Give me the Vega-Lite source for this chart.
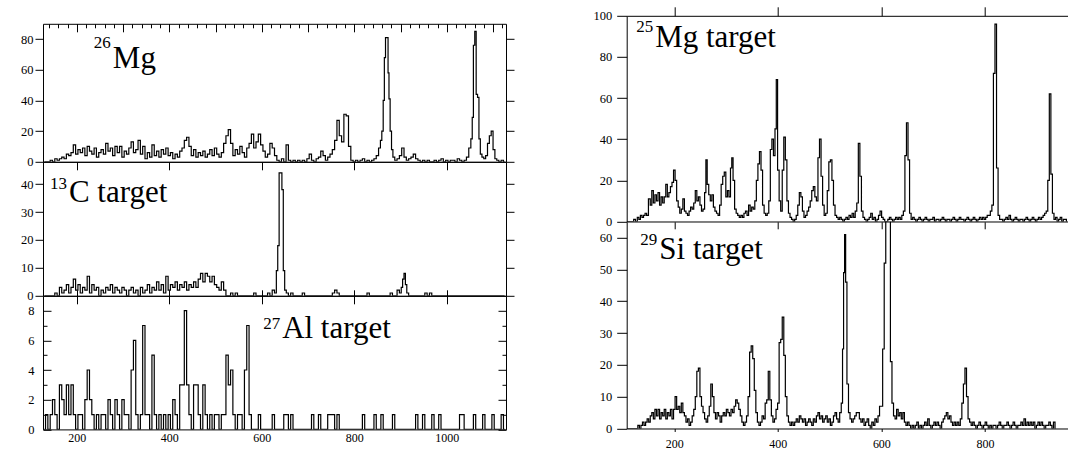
{
"$schema": "https://vega.github.io/schema/vega-lite/v6.json",
"padding": {"left": 0, "top": 5.8, "right": 0, "bottom": 0},
"config": {
  "view": {"stroke": "black", "strokeWidth": 1},
  "axis": {"labelFont": "Liberation Serif", "labelFontSize": 12.5, "labelColor": "black", "tickColor": "black", "domainColor": "black", "tickWidth": 1, "domainWidth": 1, "grid": false, "labelFlush": false, "labelOverlap": false, "format": "d"},
  "text": {"font": "Liberation Serif", "color": "black"}
},
"datasets": {
"mg26": [{"x":130,"y":0},{"x":140,"y":0},{"x":145,"y":1},{"x":150,"y":0},{"x":155,"y":2},{"x":160,"y":1},{"x":165,"y":2},{"x":170,"y":3},{"x":175,"y":2},{"x":180,"y":5},{"x":185,"y":4},{"x":190,"y":6},{"x":195,"y":11},{"x":200,"y":5},{"x":205,"y":8},{"x":210,"y":6},{"x":215,"y":9},{"x":220,"y":4},{"x":225,"y":10},{"x":230,"y":7},{"x":235,"y":5},{"x":240,"y":9},{"x":245,"y":3},{"x":250,"y":6},{"x":255,"y":8},{"x":260,"y":5},{"x":265,"y":12},{"x":270,"y":7},{"x":275,"y":9},{"x":280,"y":4},{"x":285,"y":10},{"x":290,"y":6},{"x":295,"y":10},{"x":300,"y":3},{"x":305,"y":7},{"x":310,"y":5},{"x":315,"y":9},{"x":320,"y":13},{"x":325,"y":6},{"x":330,"y":8},{"x":335,"y":14},{"x":340,"y":5},{"x":345,"y":10},{"x":350,"y":2},{"x":355,"y":6},{"x":360,"y":3},{"x":365,"y":11},{"x":370,"y":4},{"x":375,"y":7},{"x":380,"y":3},{"x":385,"y":8},{"x":390,"y":5},{"x":395,"y":9},{"x":400,"y":4},{"x":405,"y":6},{"x":410,"y":2},{"x":415,"y":5},{"x":420,"y":3},{"x":425,"y":7},{"x":430,"y":9},{"x":435,"y":14},{"x":440,"y":16},{"x":445,"y":10},{"x":450,"y":4},{"x":455,"y":8},{"x":460,"y":3},{"x":465,"y":6},{"x":470,"y":4},{"x":475,"y":7},{"x":480,"y":3},{"x":485,"y":5},{"x":490,"y":8},{"x":495,"y":4},{"x":500,"y":9},{"x":505,"y":5},{"x":510,"y":3},{"x":515,"y":6},{"x":520,"y":12},{"x":525,"y":17},{"x":530,"y":21},{"x":535,"y":12},{"x":540,"y":4},{"x":545,"y":8},{"x":550,"y":5},{"x":555,"y":10},{"x":560,"y":6},{"x":565,"y":3},{"x":570,"y":9},{"x":575,"y":12},{"x":580,"y":18},{"x":585,"y":9},{"x":590,"y":13},{"x":595,"y":18},{"x":600,"y":11},{"x":605,"y":7},{"x":610,"y":3},{"x":615,"y":5},{"x":620,"y":12},{"x":625,"y":9},{"x":630,"y":4},{"x":635,"y":1},{"x":640,"y":0},{"x":645,"y":2},{"x":650,"y":0},{"x":655,"y":11},{"x":660,"y":1},{"x":665,"y":0},{"x":670,"y":1},{"x":675,"y":0},{"x":680,"y":1},{"x":685,"y":0},{"x":690,"y":1},{"x":695,"y":0},{"x":700,"y":2},{"x":705,"y":5},{"x":710,"y":1},{"x":715,"y":0},{"x":720,"y":2},{"x":725,"y":3},{"x":730,"y":7},{"x":735,"y":4},{"x":740,"y":1},{"x":745,"y":3},{"x":750,"y":5},{"x":755,"y":8},{"x":760,"y":14},{"x":765,"y":27},{"x":770,"y":17},{"x":775,"y":13},{"x":780,"y":31},{"x":785,"y":30},{"x":790,"y":10},{"x":795,"y":1},{"x":800,"y":0},{"x":805,"y":1},{"x":810,"y":0},{"x":815,"y":1},{"x":820,"y":2},{"x":825,"y":0},{"x":830,"y":1},{"x":835,"y":0},{"x":840,"y":1},{"x":845,"y":2},{"x":850,"y":4},{"x":855,"y":9},{"x":858,"y":14},{"x":861,"y":20},{"x":864,"y":40},{"x":866,"y":68},{"x":869,"y":81},{"x":872,"y":81},{"x":874,"y":58},{"x":876,"y":41},{"x":879,"y":20},{"x":882,"y":8},{"x":885,"y":3},{"x":890,"y":1},{"x":895,"y":2},{"x":900,"y":4},{"x":905,"y":9},{"x":910,"y":3},{"x":915,"y":1},{"x":920,"y":2},{"x":925,"y":3},{"x":930,"y":5},{"x":935,"y":2},{"x":940,"y":1},{"x":945,"y":0},{"x":950,"y":1},{"x":955,"y":0},{"x":960,"y":1},{"x":965,"y":0},{"x":970,"y":0},{"x":975,"y":1},{"x":980,"y":0},{"x":985,"y":1},{"x":990,"y":2},{"x":995,"y":0},{"x":1000,"y":1},{"x":1005,"y":0},{"x":1010,"y":1},{"x":1015,"y":1},{"x":1020,"y":0},{"x":1025,"y":2},{"x":1030,"y":1},{"x":1035,"y":0},{"x":1040,"y":1},{"x":1045,"y":3},{"x":1050,"y":9},{"x":1054,"y":15},{"x":1056,"y":29},{"x":1059,"y":76},{"x":1062,"y":85},{"x":1065,"y":44},{"x":1068,"y":42},{"x":1071,"y":15},{"x":1074,"y":5},{"x":1078,"y":3},{"x":1082,"y":2},{"x":1086,"y":4},{"x":1090,"y":12},{"x":1094,"y":17},{"x":1098,"y":20},{"x":1102,"y":8},{"x":1106,"y":2},{"x":1110,"y":1},{"x":1115,"y":0},{"x":1120,"y":1},{"x":1125,"y":0}],
"c13": [{"x":130,"y":0},{"x":150,"y":0},{"x":155,"y":1},{"x":160,"y":0},{"x":165,"y":3},{"x":170,"y":1},{"x":175,"y":2},{"x":180,"y":4},{"x":185,"y":1},{"x":190,"y":3},{"x":195,"y":6},{"x":200,"y":2},{"x":205,"y":4},{"x":210,"y":1},{"x":215,"y":3},{"x":220,"y":2},{"x":225,"y":7},{"x":230,"y":1},{"x":235,"y":4},{"x":240,"y":2},{"x":245,"y":3},{"x":250,"y":0},{"x":255,"y":2},{"x":260,"y":1},{"x":265,"y":3},{"x":270,"y":2},{"x":275,"y":4},{"x":280,"y":1},{"x":285,"y":3},{"x":290,"y":2},{"x":295,"y":1},{"x":300,"y":3},{"x":305,"y":2},{"x":310,"y":0},{"x":315,"y":2},{"x":320,"y":3},{"x":325,"y":1},{"x":330,"y":2},{"x":335,"y":0},{"x":340,"y":3},{"x":345,"y":1},{"x":350,"y":2},{"x":355,"y":4},{"x":360,"y":1},{"x":365,"y":3},{"x":370,"y":2},{"x":375,"y":5},{"x":380,"y":2},{"x":385,"y":4},{"x":390,"y":1},{"x":395,"y":7},{"x":400,"y":2},{"x":405,"y":4},{"x":410,"y":3},{"x":415,"y":5},{"x":420,"y":2},{"x":425,"y":4},{"x":430,"y":3},{"x":435,"y":5},{"x":440,"y":2},{"x":445,"y":4},{"x":450,"y":3},{"x":455,"y":5},{"x":460,"y":3},{"x":465,"y":6},{"x":470,"y":8},{"x":475,"y":5},{"x":480,"y":8},{"x":485,"y":7},{"x":490,"y":5},{"x":495,"y":7},{"x":500,"y":4},{"x":505,"y":3},{"x":510,"y":2},{"x":515,"y":5},{"x":520,"y":2},{"x":525,"y":0},{"x":530,"y":0},{"x":535,"y":1},{"x":540,"y":0},{"x":545,"y":1},{"x":550,"y":0},{"x":580,"y":0},{"x":585,"y":1},{"x":590,"y":0},{"x":610,"y":0},{"x":615,"y":1},{"x":620,"y":0},{"x":625,"y":2},{"x":630,"y":1},{"x":633,"y":9},{"x":636,"y":18},{"x":639,"y":44},{"x":642,"y":44},{"x":645,"y":38},{"x":648,"y":9},{"x":651,"y":2},{"x":655,"y":1},{"x":660,"y":0},{"x":665,"y":1},{"x":670,"y":0},{"x":685,"y":0},{"x":690,"y":1},{"x":695,"y":0},{"x":750,"y":0},{"x":755,"y":1},{"x":760,"y":2},{"x":765,"y":1},{"x":770,"y":0},{"x":825,"y":0},{"x":830,"y":1},{"x":835,"y":0},{"x":875,"y":0},{"x":880,"y":1},{"x":885,"y":0},{"x":890,"y":0},{"x":895,"y":2},{"x":900,"y":1},{"x":903,"y":3},{"x":906,"y":6},{"x":909,"y":8},{"x":912,"y":4},{"x":915,"y":1},{"x":920,"y":0},{"x":950,"y":0},{"x":955,"y":1},{"x":960,"y":0},{"x":965,"y":1},{"x":970,"y":0},{"x":1125,"y":0}],
"al27": [{"x":130,"y":0},{"x":135,"y":1},{"x":140,"y":0},{"x":145,"y":1},{"x":150,"y":2},{"x":155,"y":1},{"x":160,"y":0},{"x":165,"y":3},{"x":170,"y":2},{"x":175,"y":1},{"x":180,"y":3},{"x":185,"y":1},{"x":190,"y":3},{"x":195,"y":1},{"x":200,"y":0},{"x":205,"y":1},{"x":210,"y":1},{"x":215,"y":0},{"x":220,"y":2},{"x":225,"y":4},{"x":230,"y":2},{"x":235,"y":1},{"x":240,"y":0},{"x":245,"y":1},{"x":250,"y":0},{"x":255,"y":1},{"x":260,"y":1},{"x":265,"y":0},{"x":270,"y":2},{"x":275,"y":1},{"x":280,"y":0},{"x":285,"y":2},{"x":290,"y":1},{"x":295,"y":0},{"x":300,"y":2},{"x":305,"y":1},{"x":310,"y":1},{"x":315,"y":0},{"x":320,"y":4},{"x":325,"y":6},{"x":330,"y":1},{"x":335,"y":0},{"x":340,"y":1},{"x":345,"y":7},{"x":350,"y":1},{"x":355,"y":1},{"x":360,"y":0},{"x":365,"y":5},{"x":370,"y":1},{"x":375,"y":0},{"x":380,"y":1},{"x":385,"y":0},{"x":390,"y":1},{"x":395,"y":0},{"x":400,"y":1},{"x":405,"y":0},{"x":410,"y":2},{"x":415,"y":1},{"x":420,"y":0},{"x":425,"y":3},{"x":430,"y":3},{"x":435,"y":8},{"x":440,"y":3},{"x":445,"y":1},{"x":450,"y":0},{"x":455,"y":3},{"x":460,"y":3},{"x":465,"y":1},{"x":470,"y":0},{"x":475,"y":3},{"x":480,"y":1},{"x":485,"y":0},{"x":490,"y":1},{"x":495,"y":0},{"x":500,"y":1},{"x":505,"y":1},{"x":510,"y":0},{"x":515,"y":1},{"x":520,"y":1},{"x":525,"y":5},{"x":530,"y":3},{"x":535,"y":4},{"x":540,"y":1},{"x":545,"y":0},{"x":550,"y":1},{"x":555,"y":1},{"x":560,"y":0},{"x":565,"y":4},{"x":570,"y":7},{"x":575,"y":1},{"x":580,"y":0},{"x":590,"y":0},{"x":595,"y":1},{"x":600,"y":0},{"x":620,"y":0},{"x":625,"y":1},{"x":630,"y":0},{"x":645,"y":0},{"x":650,"y":1},{"x":655,"y":1},{"x":660,"y":0},{"x":665,"y":1},{"x":670,"y":0},{"x":705,"y":0},{"x":710,"y":1},{"x":715,"y":0},{"x":720,"y":0},{"x":725,"y":1},{"x":730,"y":0},{"x":740,"y":0},{"x":745,"y":1},{"x":750,"y":1},{"x":755,"y":1},{"x":760,"y":0},{"x":765,"y":1},{"x":770,"y":0},{"x":815,"y":0},{"x":820,"y":1},{"x":825,"y":0},{"x":840,"y":0},{"x":845,"y":1},{"x":850,"y":0},{"x":855,"y":0},{"x":860,"y":1},{"x":865,"y":0},{"x":880,"y":0},{"x":885,"y":1},{"x":890,"y":0},{"x":930,"y":0},{"x":935,"y":1},{"x":940,"y":0},{"x":945,"y":0},{"x":950,"y":1},{"x":955,"y":0},{"x":965,"y":0},{"x":970,"y":1},{"x":975,"y":0},{"x":980,"y":0},{"x":985,"y":1},{"x":990,"y":0},{"x":1025,"y":0},{"x":1030,"y":1},{"x":1035,"y":1},{"x":1040,"y":0},{"x":1055,"y":0},{"x":1060,"y":1},{"x":1065,"y":0},{"x":1075,"y":0},{"x":1080,"y":1},{"x":1085,"y":0},{"x":1095,"y":0},{"x":1100,"y":1},{"x":1105,"y":0},{"x":1115,"y":0},{"x":1120,"y":1},{"x":1125,"y":0}],
"mg25": [{"x":108,"y":0},{"x":120,"y":0},{"x":123,"y":1},{"x":127,"y":0},{"x":130,"y":2},{"x":133,"y":1},{"x":136,"y":3},{"x":139,"y":2},{"x":142,"y":3},{"x":145,"y":4},{"x":148,"y":3},{"x":152,"y":11},{"x":155,"y":8},{"x":158,"y":15},{"x":161,"y":9},{"x":164,"y":13},{"x":167,"y":10},{"x":170,"y":14},{"x":173,"y":8},{"x":176,"y":12},{"x":179,"y":9},{"x":182,"y":12},{"x":185,"y":18},{"x":188,"y":12},{"x":191,"y":14},{"x":194,"y":17},{"x":197,"y":19},{"x":200,"y":25},{"x":203,"y":20},{"x":206,"y":10},{"x":209,"y":7},{"x":212,"y":4},{"x":215,"y":6},{"x":218,"y":11},{"x":221,"y":5},{"x":224,"y":4},{"x":227,"y":3},{"x":230,"y":5},{"x":233,"y":7},{"x":236,"y":6},{"x":239,"y":9},{"x":242,"y":15},{"x":245,"y":10},{"x":248,"y":12},{"x":251,"y":8},{"x":254,"y":5},{"x":257,"y":6},{"x":260,"y":14},{"x":262,"y":30},{"x":265,"y":18},{"x":268,"y":13},{"x":271,"y":10},{"x":274,"y":13},{"x":277,"y":7},{"x":280,"y":5},{"x":283,"y":4},{"x":286,"y":3},{"x":289,"y":8},{"x":292,"y":18},{"x":295,"y":22},{"x":298,"y":24},{"x":301,"y":12},{"x":304,"y":15},{"x":307,"y":12},{"x":310,"y":26},{"x":312,"y":31},{"x":315,"y":20},{"x":318,"y":6},{"x":321,"y":4},{"x":324,"y":3},{"x":327,"y":2},{"x":330,"y":3},{"x":333,"y":2},{"x":336,"y":4},{"x":339,"y":5},{"x":342,"y":3},{"x":345,"y":8},{"x":348,"y":5},{"x":351,"y":7},{"x":354,"y":6},{"x":357,"y":10},{"x":360,"y":20},{"x":363,"y":28},{"x":366,"y":34},{"x":369,"y":25},{"x":372,"y":8},{"x":375,"y":4},{"x":378,"y":3},{"x":381,"y":4},{"x":384,"y":10},{"x":387,"y":35},{"x":390,"y":40},{"x":393,"y":32},{"x":396,"y":45},{"x":398,"y":69},{"x":401,"y":25},{"x":404,"y":10},{"x":407,"y":5},{"x":410,"y":25},{"x":413,"y":41},{"x":416,"y":30},{"x":419,"y":10},{"x":422,"y":4},{"x":425,"y":2},{"x":428,"y":1},{"x":431,"y":0},{"x":434,"y":1},{"x":437,"y":3},{"x":440,"y":8},{"x":443,"y":14},{"x":446,"y":12},{"x":449,"y":5},{"x":452,"y":2},{"x":455,"y":3},{"x":458,"y":5},{"x":461,"y":7},{"x":464,"y":10},{"x":467,"y":15},{"x":470,"y":17},{"x":473,"y":12},{"x":476,"y":10},{"x":479,"y":31},{"x":482,"y":40},{"x":485,"y":22},{"x":488,"y":8},{"x":491,"y":3},{"x":494,"y":4},{"x":497,"y":15},{"x":500,"y":29},{"x":503,"y":30},{"x":506,"y":20},{"x":509,"y":8},{"x":512,"y":3},{"x":515,"y":2},{"x":518,"y":1},{"x":521,"y":2},{"x":524,"y":1},{"x":527,"y":0},{"x":530,"y":1},{"x":533,"y":2},{"x":536,"y":1},{"x":539,"y":3},{"x":542,"y":2},{"x":545,"y":4},{"x":548,"y":2},{"x":551,"y":5},{"x":554,"y":9},{"x":557,"y":38},{"x":560,"y":22},{"x":563,"y":5},{"x":566,"y":2},{"x":569,"y":1},{"x":572,"y":0},{"x":575,"y":1},{"x":578,"y":2},{"x":581,"y":4},{"x":584,"y":1},{"x":587,"y":2},{"x":590,"y":0},{"x":593,"y":1},{"x":596,"y":3},{"x":599,"y":5},{"x":602,"y":2},{"x":605,"y":1},{"x":608,"y":0},{"x":611,"y":0},{"x":614,"y":1},{"x":617,"y":2},{"x":620,"y":1},{"x":623,"y":0},{"x":626,"y":1},{"x":629,"y":2},{"x":632,"y":1},{"x":635,"y":2},{"x":638,"y":1},{"x":641,"y":3},{"x":644,"y":5},{"x":647,"y":32},{"x":650,"y":48},{"x":653,"y":30},{"x":656,"y":4},{"x":659,"y":1},{"x":662,"y":2},{"x":665,"y":1},{"x":668,"y":0},{"x":671,"y":1},{"x":674,"y":2},{"x":677,"y":1},{"x":680,"y":0},{"x":683,"y":1},{"x":686,"y":2},{"x":689,"y":1},{"x":692,"y":0},{"x":695,"y":1},{"x":698,"y":1},{"x":701,"y":2},{"x":704,"y":0},{"x":707,"y":1},{"x":710,"y":1},{"x":713,"y":0},{"x":716,"y":1},{"x":719,"y":2},{"x":722,"y":1},{"x":725,"y":0},{"x":728,"y":1},{"x":731,"y":1},{"x":734,"y":0},{"x":737,"y":1},{"x":740,"y":2},{"x":743,"y":1},{"x":746,"y":0},{"x":749,"y":1},{"x":752,"y":2},{"x":755,"y":1},{"x":758,"y":1},{"x":761,"y":0},{"x":764,"y":1},{"x":767,"y":2},{"x":770,"y":1},{"x":773,"y":0},{"x":776,"y":1},{"x":779,"y":2},{"x":782,"y":1},{"x":785,"y":0},{"x":788,"y":1},{"x":791,"y":2},{"x":794,"y":1},{"x":797,"y":2},{"x":800,"y":1},{"x":803,"y":2},{"x":806,"y":3},{"x":809,"y":3},{"x":812,"y":5},{"x":815,"y":8},{"x":818,"y":72},{"x":821,"y":96},{"x":824,"y":26},{"x":827,"y":3},{"x":830,"y":1},{"x":833,"y":1},{"x":836,"y":0},{"x":839,"y":1},{"x":842,"y":2},{"x":845,"y":1},{"x":848,"y":3},{"x":851,"y":1},{"x":854,"y":0},{"x":857,"y":1},{"x":860,"y":2},{"x":863,"y":1},{"x":866,"y":0},{"x":869,"y":1},{"x":872,"y":1},{"x":875,"y":0},{"x":878,"y":1},{"x":881,"y":2},{"x":884,"y":1},{"x":887,"y":0},{"x":890,"y":1},{"x":893,"y":2},{"x":896,"y":1},{"x":899,"y":0},{"x":902,"y":1},{"x":905,"y":2},{"x":908,"y":1},{"x":911,"y":2},{"x":914,"y":3},{"x":917,"y":4},{"x":920,"y":5},{"x":923,"y":20},{"x":926,"y":62},{"x":929,"y":23},{"x":932,"y":4},{"x":935,"y":1},{"x":938,"y":2},{"x":941,"y":0},{"x":944,"y":1},{"x":947,"y":2},{"x":950,"y":0},{"x":953,"y":1},{"x":956,"y":1},{"x":959,"y":0}],
"si29": [{"x":108,"y":0},{"x":128,"y":0},{"x":131,"y":1},{"x":134,"y":0},{"x":137,"y":1},{"x":140,"y":2},{"x":143,"y":1},{"x":146,"y":2},{"x":149,"y":3},{"x":152,"y":2},{"x":155,"y":4},{"x":158,"y":5},{"x":161,"y":3},{"x":164,"y":6},{"x":167,"y":4},{"x":170,"y":6},{"x":173,"y":3},{"x":176,"y":5},{"x":179,"y":4},{"x":182,"y":6},{"x":185,"y":3},{"x":188,"y":5},{"x":191,"y":4},{"x":194,"y":6},{"x":197,"y":3},{"x":200,"y":6},{"x":203,"y":10},{"x":206,"y":6},{"x":209,"y":7},{"x":212,"y":5},{"x":215,"y":8},{"x":218,"y":5},{"x":221,"y":4},{"x":224,"y":2},{"x":227,"y":3},{"x":230,"y":1},{"x":233,"y":2},{"x":236,"y":4},{"x":239,"y":6},{"x":242,"y":10},{"x":245,"y":18},{"x":248,"y":19},{"x":251,"y":10},{"x":254,"y":7},{"x":257,"y":5},{"x":260,"y":3},{"x":263,"y":2},{"x":266,"y":4},{"x":269,"y":7},{"x":272,"y":14},{"x":275,"y":10},{"x":278,"y":5},{"x":281,"y":3},{"x":284,"y":5},{"x":287,"y":4},{"x":290,"y":2},{"x":293,"y":4},{"x":296,"y":5},{"x":299,"y":4},{"x":302,"y":6},{"x":305,"y":5},{"x":308,"y":4},{"x":311,"y":6},{"x":314,"y":5},{"x":317,"y":7},{"x":320,"y":9},{"x":323,"y":8},{"x":326,"y":6},{"x":329,"y":4},{"x":332,"y":2},{"x":335,"y":1},{"x":338,"y":2},{"x":341,"y":4},{"x":344,"y":10},{"x":347,"y":24},{"x":350,"y":26},{"x":353,"y":22},{"x":356,"y":12},{"x":359,"y":5},{"x":362,"y":2},{"x":365,"y":1},{"x":368,"y":2},{"x":371,"y":4},{"x":374,"y":3},{"x":377,"y":8},{"x":380,"y":9},{"x":383,"y":18},{"x":386,"y":9},{"x":389,"y":4},{"x":392,"y":2},{"x":395,"y":3},{"x":398,"y":6},{"x":401,"y":8},{"x":404,"y":27},{"x":407,"y":28},{"x":410,"y":35},{"x":413,"y":23},{"x":416,"y":10},{"x":419,"y":4},{"x":422,"y":2},{"x":425,"y":1},{"x":428,"y":2},{"x":431,"y":1},{"x":434,"y":2},{"x":437,"y":3},{"x":440,"y":2},{"x":443,"y":4},{"x":446,"y":3},{"x":449,"y":2},{"x":452,"y":3},{"x":455,"y":1},{"x":458,"y":2},{"x":461,"y":3},{"x":464,"y":2},{"x":467,"y":1},{"x":470,"y":3},{"x":473,"y":2},{"x":476,"y":4},{"x":479,"y":5},{"x":482,"y":3},{"x":485,"y":4},{"x":488,"y":2},{"x":491,"y":3},{"x":494,"y":4},{"x":497,"y":2},{"x":500,"y":3},{"x":503,"y":1},{"x":506,"y":2},{"x":509,"y":4},{"x":512,"y":5},{"x":515,"y":3},{"x":518,"y":2},{"x":521,"y":5},{"x":524,"y":8},{"x":526,"y":25},{"x":528,"y":49},{"x":530,"y":61},{"x":532,"y":46},{"x":535,"y":14},{"x":538,"y":5},{"x":541,"y":3},{"x":544,"y":2},{"x":547,"y":3},{"x":550,"y":4},{"x":553,"y":5},{"x":556,"y":5},{"x":559,"y":3},{"x":562,"y":2},{"x":565,"y":3},{"x":568,"y":1},{"x":571,"y":2},{"x":574,"y":3},{"x":577,"y":1},{"x":580,"y":0},{"x":583,"y":2},{"x":586,"y":1},{"x":589,"y":3},{"x":592,"y":2},{"x":595,"y":4},{"x":598,"y":7},{"x":601,"y":7},{"x":604,"y":25},{"x":607,"y":52},{"x":610,"y":80},{"x":613,"y":80},{"x":616,"y":80},{"x":619,"y":21},{"x":622,"y":8},{"x":625,"y":4},{"x":628,"y":3},{"x":631,"y":6},{"x":634,"y":4},{"x":637,"y":5},{"x":640,"y":3},{"x":643,"y":5},{"x":646,"y":2},{"x":649,"y":1},{"x":652,"y":2},{"x":655,"y":1},{"x":658,"y":0},{"x":661,"y":1},{"x":664,"y":0},{"x":667,"y":1},{"x":670,"y":2},{"x":673,"y":0},{"x":676,"y":1},{"x":679,"y":0},{"x":682,"y":1},{"x":685,"y":2},{"x":688,"y":1},{"x":691,"y":3},{"x":694,"y":1},{"x":697,"y":0},{"x":700,"y":1},{"x":703,"y":2},{"x":706,"y":1},{"x":709,"y":2},{"x":712,"y":1},{"x":715,"y":0},{"x":718,"y":2},{"x":721,"y":3},{"x":724,"y":4},{"x":727,"y":5},{"x":730,"y":3},{"x":733,"y":4},{"x":736,"y":2},{"x":739,"y":1},{"x":742,"y":2},{"x":745,"y":1},{"x":748,"y":2},{"x":751,"y":1},{"x":754,"y":3},{"x":757,"y":8},{"x":760,"y":14},{"x":763,"y":19},{"x":766,"y":10},{"x":769,"y":3},{"x":772,"y":2},{"x":775,"y":1},{"x":778,"y":2},{"x":781,"y":1},{"x":784,"y":0},{"x":787,"y":1},{"x":790,"y":2},{"x":793,"y":1},{"x":796,"y":0},{"x":799,"y":1},{"x":802,"y":2},{"x":805,"y":1},{"x":808,"y":0},{"x":811,"y":1},{"x":814,"y":0},{"x":817,"y":1},{"x":820,"y":1},{"x":823,"y":0},{"x":826,"y":1},{"x":829,"y":2},{"x":832,"y":1},{"x":835,"y":0},{"x":838,"y":1},{"x":841,"y":1},{"x":844,"y":2},{"x":847,"y":1},{"x":850,"y":0},{"x":853,"y":1},{"x":856,"y":2},{"x":859,"y":1},{"x":862,"y":0},{"x":865,"y":1},{"x":868,"y":1},{"x":871,"y":2},{"x":874,"y":1},{"x":877,"y":3},{"x":880,"y":1},{"x":883,"y":2},{"x":886,"y":1},{"x":889,"y":2},{"x":892,"y":1},{"x":895,"y":2},{"x":898,"y":0},{"x":901,"y":1},{"x":904,"y":2},{"x":907,"y":1},{"x":910,"y":2},{"x":913,"y":1},{"x":916,"y":0},{"x":919,"y":1},{"x":922,"y":1},{"x":925,"y":2},{"x":928,"y":1},{"x":931,"y":0},{"x":934,"y":2},{"x":937,"y":0}]
},
"spacing": 66.7,
"hconcat": [
{"vconcat": [
 {"width": 463, "height": 7.4, "view": {"stroke": null}, "data": {"values": []}, "mark": {"type": "point", "opacity": 0}, "encoding": {}},
 {"width": 463, "height": 138,
  "layer": [
   {"data": {"name": "mg26"}, "mark": {"type": "line", "interpolate": "step", "color": "black", "strokeWidth": 1.2, "clip": true},
    "encoding": {
     "x": {"field": "x", "type": "quantitative", "scale": {"domain": [127, 1128], "nice": false, "zero": false}, "axis": null},
     "y": {"field": "y", "type": "quantitative", "scale": {"domain": [0, 90], "nice": false}, "axis": {"orient": "left", "values": [0, 20, 40, 60, 80], "tickSize": 8, "labelPadding": 2, "domain": false, "title": null, "minExtent": 42.3, "maxExtent": 42.3}}}},
   {"data": {"values": [{"x": 278, "y": 61.1, "sup": "26", "name": "Mg"}]}, "mark": {"type": "text", "align": "right", "baseline": "alphabetic", "fontSize": 17, "dx": -2, "dy": -20, "font": "Liberation Serif", "color": "black"},
    "encoding": {
     "x": {"field": "x", "type": "quantitative", "scale": {"domain": [127, 1128], "nice": false, "zero": false}, "axis": {"orient": "top", "values": [140,160,180,200,220,240,260,280,300,320,340,360,380,400,420,440,460,480,500,520,540,560,580,600,620,640,660,680,700,720,740,760,780,800,820,840,860,880,900,920,940,960,980,1000,1020,1040,1060,1080,1100,1120], "tickSize": -4, "labels": false, "domain": false, "title": null}},
     "y": {"field": "y", "type": "quantitative", "scale": {"domain": [0, 90], "nice": false}, "axis": {"orient": "right", "values": [0, 20, 40, 60, 80], "tickSize": 8, "labels": false, "domain": false, "title": null, "minExtent": 10, "maxExtent": 10}},
     "text": {"field": "sup", "type": "nominal"}}},
   {"data": {"values": [{"x": 278, "y": 61.1, "sup": "26", "name": "Mg"}]}, "mark": {"type": "text", "align": "left", "baseline": "alphabetic", "fontSize": 31, "font": "Liberation Serif", "color": "black"},
    "encoding": {
     "x": {"field": "x", "type": "quantitative", "scale": {"domain": [127, 1128], "nice": false, "zero": false}, "axis": {"orient": "top", "values": [200,300,400,500,600,700,800,900,1000,1100], "tickSize": -8, "labels": false, "domain": false, "title": null}},
     "y": {"field": "y", "type": "quantitative", "scale": {"domain": [0, 90], "nice": false}, "axis": null},
     "text": {"field": "name", "type": "nominal"}}}
  ],
  "resolve": {"axis": {"x": "independent", "y": "independent"}}},
 {"width": 463, "height": 134,
  "layer": [
   {"data": {"name": "c13"}, "mark": {"type": "line", "interpolate": "step", "color": "black", "strokeWidth": 1.2, "clip": true},
    "encoding": {
     "x": {"field": "x", "type": "quantitative", "scale": {"domain": [127, 1128], "nice": false, "zero": false}, "axis": null},
     "y": {"field": "y", "type": "quantitative", "scale": {"domain": [0, 48], "nice": false}, "axis": {"orient": "left", "values": [0, 10, 20, 30, 40], "tickSize": 8, "labelPadding": 2, "domain": false, "title": null, "minExtent": 42.3, "maxExtent": 42.3}}}},
   {"data": {"values": [{"x": 183, "y": 33.6, "sup": "13", "name": "C target"}]}, "mark": {"type": "text", "align": "right", "baseline": "alphabetic", "fontSize": 17, "dx": -2, "dy": -13, "font": "Liberation Serif", "color": "black"},
    "encoding": {
     "x": {"field": "x", "type": "quantitative", "scale": {"domain": [127, 1128], "nice": false, "zero": false}, "axis": {"orient": "top", "values": [200, 400, 600, 800, 1000], "tickSize": -8, "labels": false, "domain": false, "title": null}},
     "y": {"field": "y", "type": "quantitative", "scale": {"domain": [0, 48], "nice": false}, "axis": {"orient": "right", "values": [0, 10, 20, 30, 40], "tickSize": 8, "labels": false, "domain": false, "title": null, "minExtent": 10, "maxExtent": 10}},
     "text": {"field": "sup", "type": "nominal"}}},
   {"data": {"values": [{"x": 183, "y": 33.6, "sup": "13", "name": "C target"}]}, "mark": {"type": "text", "align": "left", "baseline": "alphabetic", "fontSize": 31, "font": "Liberation Serif", "color": "black"},
    "encoding": {
     "x": {"field": "x", "type": "quantitative", "scale": {"domain": [127, 1128], "nice": false, "zero": false}, "axis": {"orient": "bottom", "values": [200, 400, 600, 800, 1000], "tickSize": -6, "labels": false, "domain": false, "title": null}},
     "y": {"field": "y", "type": "quantitative", "scale": {"domain": [0, 48], "nice": false}, "axis": null},
     "text": {"field": "name", "type": "nominal"}}}
  ],
  "resolve": {"axis": {"x": "independent", "y": "independent"}}},
 {"width": 463, "height": 133.6,
  "layer": [
   {"data": {"name": "al27"}, "mark": {"type": "line", "interpolate": "step", "color": "black", "strokeWidth": 1.2, "clip": true},
    "encoding": {
     "x": {"field": "x", "type": "quantitative", "scale": {"domain": [127, 1128], "nice": false, "zero": false}, "axis": {"orient": "bottom", "values": [200, 400, 600, 800, 1000], "ticks": false, "labelPadding": 3, "labelFontSize": 12, "domain": false, "title": null}},
     "y": {"field": "y", "type": "quantitative", "scale": {"domain": [0, 9], "nice": false}, "axis": {"orient": "left", "values": [0, 2, 4, 6, 8], "ticks": false, "labelPadding": 9, "domain": false, "title": null, "minExtent": 42.3, "maxExtent": 42.3}}}},
   {"data": {"values": [{"x": 644, "y": 6.15, "sup": "27", "name": "Al target"}]}, "mark": {"type": "text", "align": "right", "baseline": "alphabetic", "fontSize": 17, "dx": -2, "dy": -9, "font": "Liberation Serif", "color": "black"},
    "encoding": {
     "x": {"field": "x", "type": "quantitative", "scale": {"domain": [127, 1128], "nice": false, "zero": false}, "axis": {"orient": "top", "values": [200, 400, 600, 800, 1000], "tickSize": -8, "labels": false, "domain": false, "title": null}},
     "y": {"field": "y", "type": "quantitative", "scale": {"domain": [0, 9], "nice": false}, "axis": {"orient": "left", "values": [0, 1, 2, 3, 4, 5, 6, 7, 8], "tickSize": {"condition": {"test": "datum.value % 2 === 1", "value": -4}, "value": -8}, "labels": false, "domain": false, "title": null}},
     "text": {"field": "sup", "type": "nominal"}}},
   {"data": {"values": [{"x": 644, "y": 6.15, "sup": "27", "name": "Al target"}]}, "mark": {"type": "text", "align": "left", "baseline": "alphabetic", "fontSize": 31, "font": "Liberation Serif", "color": "black"},
    "encoding": {
     "x": {"field": "x", "type": "quantitative", "scale": {"domain": [127, 1128], "nice": false, "zero": false}, "axis": null},
     "y": {"field": "y", "type": "quantitative", "scale": {"domain": [0, 9], "nice": false}, "axis": {"orient": "right", "values": [0, 1, 2, 3, 4, 5, 6, 7, 8], "tickSize": {"condition": {"test": "datum.value % 2 === 1", "value": -4}, "value": -8}, "labels": false, "domain": false, "title": null, "minExtent": 10, "maxExtent": 10}},
     "text": {"field": "name", "type": "nominal"}}}
  ],
  "resolve": {"axis": {"x": "independent", "y": "independent"}}}
], "spacing": 0, "bounds": "flush"},
{"vconcat": [
 {"width": 441, "height": 205.7, "view": {"stroke": null},
  "layer": [
   {"data": {"name": "mg25"}, "mark": {"type": "line", "interpolate": "step", "color": "black", "strokeWidth": 1.2, "clip": true},
    "encoding": {
     "x": {"field": "x", "type": "quantitative", "scale": {"domain": [108, 960], "nice": false, "zero": false}, "axis": {"orient": "bottom", "ticks": false, "labels": false, "domain": true, "title": null}},
     "y": {"field": "y", "type": "quantitative", "scale": {"domain": [0, 100], "nice": false}, "axis": {"orient": "left", "values": [0, 20, 40, 60, 80, 100], "tickSize": 10, "labelPadding": 5, "domain": true, "title": null, "minExtent": 42.3, "maxExtent": 42.3}}}},
   {"data": {"values": [{"x": 163, "y": 84.6, "sup": "25", "name": "Mg target"}]}, "mark": {"type": "text", "align": "right", "baseline": "alphabetic", "fontSize": 17, "dx": -2, "dy": -15, "font": "Liberation Serif", "color": "black"},
    "encoding": {
     "x": {"field": "x", "type": "quantitative", "scale": {"domain": [108, 960], "nice": false, "zero": false}, "axis": {"orient": "top", "values": [200, 400, 600, 800], "tickSize": 9, "labels": false, "domain": true, "title": null}},
     "y": {"field": "y", "type": "quantitative", "scale": {"domain": [0, 100], "nice": false}, "axis": null},
     "text": {"field": "sup", "type": "nominal"}}},
   {"data": {"values": [{"x": 163, "y": 84.6, "sup": "25", "name": "Mg target"}]}, "mark": {"type": "text", "align": "left", "baseline": "alphabetic", "fontSize": 31, "font": "Liberation Serif", "color": "black"},
    "encoding": {
     "x": {"field": "x", "type": "quantitative", "scale": {"domain": [108, 960], "nice": false, "zero": false}, "axis": null},
     "y": {"field": "y", "type": "quantitative", "scale": {"domain": [0, 100], "nice": false}, "axis": null},
     "text": {"field": "name", "type": "nominal"}}}
  ],
  "resolve": {"axis": {"x": "independent", "y": "independent"}}},
 {"width": 441, "height": 206.7, "view": {"stroke": null},
  "layer": [
   {"data": {"name": "si29"}, "mark": {"type": "line", "interpolate": "step", "color": "black", "strokeWidth": 1.2, "clip": true},
    "encoding": {
     "x": {"field": "x", "type": "quantitative", "scale": {"domain": [108, 960], "nice": false, "zero": false}, "axis": {"orient": "bottom", "values": [200, 400, 600, 800], "tickSize": 3, "labelPadding": 7, "labelFontSize": 12, "domain": true, "title": null}},
     "y": {"field": "y", "type": "quantitative", "scale": {"domain": [0, 65], "nice": false}, "axis": {"orient": "left", "values": [0, 10, 20, 30, 40, 50, 60], "tickSize": 10, "labelPadding": 5, "domain": true, "title": null, "minExtent": 42.3, "maxExtent": 42.3}}}},
   {"data": {"values": [{"x": 171, "y": 53.3, "sup": "29", "name": "Si target"}]}, "mark": {"type": "text", "align": "right", "baseline": "alphabetic", "fontSize": 17, "dx": -2, "dy": -14, "font": "Liberation Serif", "color": "black"},
    "encoding": {
     "x": {"field": "x", "type": "quantitative", "scale": {"domain": [108, 960], "nice": false, "zero": false}, "axis": {"orient": "top", "values": [200, 400, 600, 800], "tickSize": -7, "labels": false, "domain": false, "title": null}},
     "y": {"field": "y", "type": "quantitative", "scale": {"domain": [0, 65], "nice": false}, "axis": null},
     "text": {"field": "sup", "type": "nominal"}}},
   {"data": {"values": [{"x": 171, "y": 53.3, "sup": "29", "name": "Si target"}]}, "mark": {"type": "text", "align": "left", "baseline": "alphabetic", "fontSize": 31, "font": "Liberation Serif", "color": "black"},
    "encoding": {
     "x": {"field": "x", "type": "quantitative", "scale": {"domain": [108, 960], "nice": false, "zero": false}, "axis": null},
     "y": {"field": "y", "type": "quantitative", "scale": {"domain": [0, 65], "nice": false}, "axis": null},
     "text": {"field": "name", "type": "nominal"}}}
  ],
  "resolve": {"axis": {"x": "independent", "y": "independent"}}}
], "spacing": 0, "bounds": "flush"}
]
}
